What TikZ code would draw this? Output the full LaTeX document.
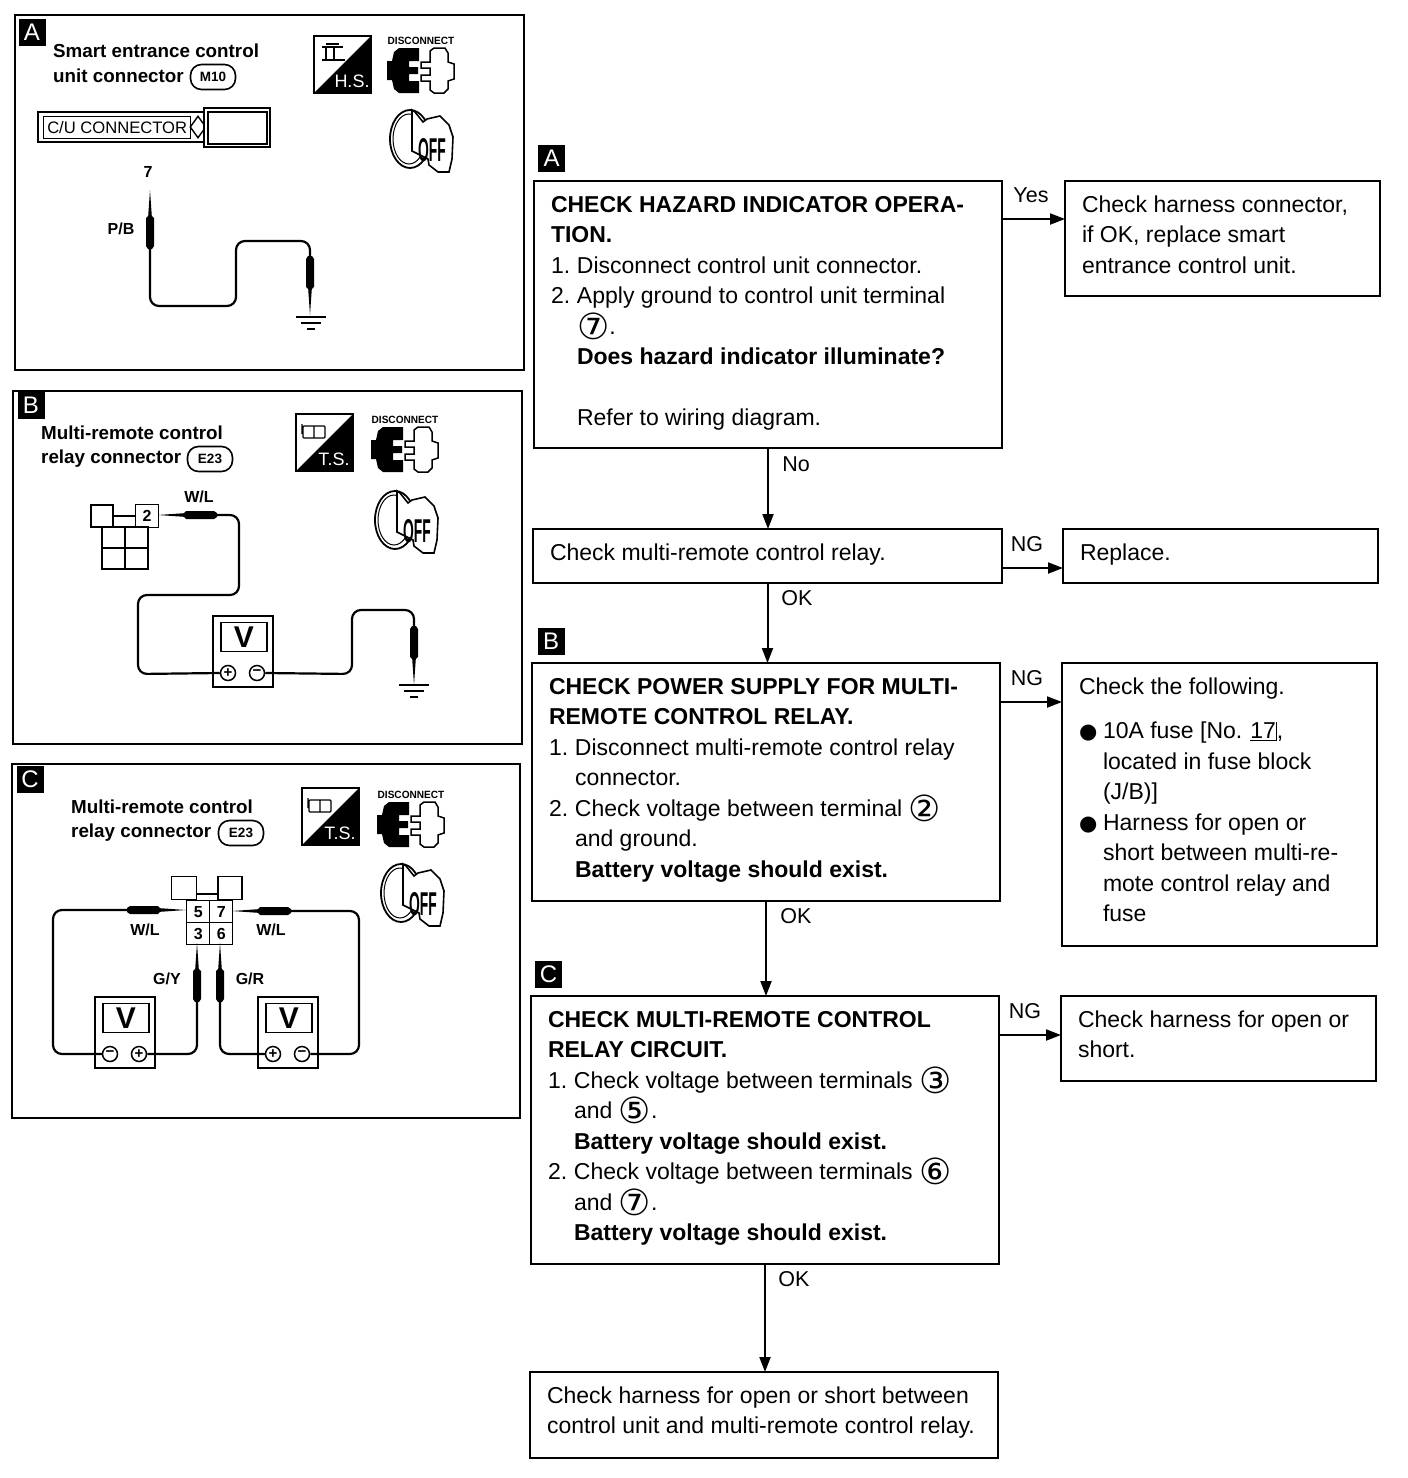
\documentclass[tikz,border=0pt]{standalone}
\usepackage{fontspec}
\setmainfont{Liberation Sans}
\newfontfamily\dejavu{DejaVu Sans}
\usetikzlibrary{arrows.meta,shapes.geometric}

\newcommand{\flowtext}[3]{\begin{minipage}[t][#2pt][t]{#1pt}\rule{0pt}{22.4pt}#3\end{minipage}}
\newcommand{\termnum}[1]{\raisebox{-5pt}[0pt][0pt]{\dejavu\fontsize{36}{36}\selectfont #1}}
\newcommand{\stepnum}[1]{\makebox[26pt][l]{#1}}
\newcommand{\stepind}{\hspace*{26pt}}
\newcommand{\bulletmark}{\makebox[24pt][l]{\dejavu\fontsize{21}{21}\selectfont ●}}
\newcommand{\fusenum}{\hspace{8pt}\underline{17}\rule[-2pt]{1pt}{19pt}}

\tikzset{
	flowbox/.style={draw,line width=2.2pt,anchor=north west,inner xsep=17pt,inner ysep=9pt,outer sep=0pt,
		font=\fontsize{23}{30.5}\selectfont},
	flowarrow/.style={line width=2pt,-{Triangle[length=15pt,width=11pt]}},
	flowlabel/.style={font=\fontsize{21.5}{24}\selectfont,inner sep=0pt},
	tagbox/.style={fill=black,text=white,minimum size=27pt,inner sep=0pt,font=\fontsize{24}{24}\selectfont},
	paneltext/.style={anchor=west,inner sep=0pt,font=\bfseries\fontsize{18.8}{20}\selectfont},
	pill/.style={draw,line width=1.6pt,rounded corners=11pt,minimum width=45pt,minimum height=25pt,inner sep=0pt,
		font=\bfseries\fontsize{13.5}{14}\selectfont},
	wirelabel/.style={inner sep=0pt,font=\bfseries\fontsize{16}{16}\selectfont},
	wire/.style={line width=2.2pt,rounded corners=9pt},
	thinbox/.style={draw,line width=1.4pt},
	pics/probe/.style={code={
		\fill (0,0) -- (1.8,26) -- (4,28) -- (4,56) -- (2,59) -- (-2,59) -- (-4,56) -- (-4,28) -- (-1.8,26) -- cycle;
		\coordinate (-end) at (0,58);
	}},
	pics/ground/.style={code={
		\draw[line width=2pt] (-15,0) -- (15,0);
		\draw[line width=2pt] (-10,6) -- (10,6);
		\draw[line width=2pt] (-4,12) -- (4,12);
	}},
	pics/testicon/.style={code={
		\draw[fill=white,line width=1.6pt] (0,0) rectangle (57,57);
		\fill (57,0) -- (57,57) -- (0,57) -- cycle;
		\node[text=white,inner sep=0pt,font=\fontsize{18}{18}\selectfont] (-lbl) at (38,45) {#1};
	}},
	pics/plugicon/.style={code={
		\node[inner sep=0pt,font=\bfseries\fontsize{10.5}{12}\selectfont] (-lbl) at (34,-7) {\scalebox{.96}[1]{DISCONNECT}};
		\fill (0,13) -- (5,13) -- (7,4) -- (12,0) -- (32,0) -- (32,13) -- (22,13) -- (22,19) -- (31,19) -- (31,26)
			-- (22,26) -- (22,33) -- (32,33) -- (32,45) -- (12,45) -- (7,41) -- (5,32) -- (0,32) -- cycle;
		\draw[line width=1.5pt] (34,14) -- (43,14) -- (43,3) -- (47,0) -- (58,0) -- (61,5) -- (61,14) -- (67,16)
			-- (67,31) -- (61,33) -- (61,41) -- (57,45) -- (47,45) -- (43,42) -- (43,33) -- (34,33) -- (34,27)
			-- (43,27) -- (43,20) -- (34,20) -- cycle;
	}},
	pics/keyicon/.style={code={
		\draw[line width=1.8pt] (0,0) ellipse (20 and 29);
		\draw[line width=1pt] (-1,0) ellipse (16 and 25);
		\draw[fill=white,line width=1.6pt] (17,-20) -- (30,-23) -- (39,-14) -- (43,-2) -- (42,20) -- (39,33)
			-- (28,33) -- (19,26) -- (18,20) -- (2,12) -- (2,-29) -- (5,-27) -- (13,-17) -- cycle;
		\node[inner sep=0pt,font=\bfseries\fontsize{33}{33}\selectfont] (-off) at (22,11) {\scalebox{.42}[1]{OFF}};
	}},
	pics/meter/.style 2 args={code={
		\draw[fill=white,line width=1.6pt] (0,0) rectangle (60,71);
		\node[draw,line width=1.6pt,minimum width=46pt,minimum height=29pt,inner sep=0pt,
			font=\bfseries\fontsize{30}{30}\selectfont] (-screen) at (31,21) {V};
		\node[draw,circle,line width=1.5pt,minimum size=15pt,inner sep=0pt,font=\bfseries\fontsize{15}{15}\selectfont] (-a) at (15,57) {#1};
		\node[draw,circle,line width=1.5pt,minimum size=15pt,inner sep=0pt,font=\bfseries\fontsize{15}{15}\selectfont] (-b) at (44,57) {#2};
	}},
}

\begin{document}
\begin{tikzpicture}[x=1pt,y=-1pt]
	\path[fill=white,use as bounding box] (0,0) rectangle (1408,1478);

	\draw[line width=2pt] (15,15) rectangle (524,370);
	\draw[line width=2pt] (13,391) rectangle (522,744);
	\draw[line width=2pt] (12,764) rectangle (520,1118);

	\node[tagbox] (tagpa) at (32,32) {A};
	\node[paneltext] (capa1) at (53,51) {Smart entrance control};
	\node[paneltext] (capa2) at (53,76) {unit connector};
	\node[pill] (pilla) at (213,77) {M10};
	\pic (iconhs) at (314,36) {testicon={H.S.}};
	\draw[line width=1.3pt] (322,47) -- (343,47) (326,44) -- (339,44) (326,47) -- (326,60) (334,47) -- (334,60) (322,60) -- (345,60);
	\pic (pluga) at (387,48) {plugicon};
	\pic (keya) at (410,139) {keyicon};
	\draw[line width=1.8pt] (38,112) rectangle (206,142);
	\node[thinbox,anchor=north west,minimum width=147pt,minimum height=22pt,inner sep=0pt,font=\fontsize{16.6}{16}\selectfont] (culabel) at (43,116) {C/U CONNECTOR};
	\node[thinbox,diamond,minimum width=16pt,minimum height=22pt,inner sep=0pt] (cudia) at (198,127) {};
	\draw[fill=white,line width=1.6pt] (204,108) rectangle (270,147);
	\draw[line width=1.6pt] (208,112) rectangle (267,144);
	\node[wirelabel] (term7) at (148,172) {7};
	\node[wirelabel] (wirepb) at (121,229) {P/B};
	\pic (pa1) at (150,190) {probe};
	\pic[rotate=180] (pa2) at (310,315) {probe};
	\draw[wire] (pa1-end) -- (150,306) -- (236,306) -- (236,241) -- (310,241) -- (pa2-end);
	\pic (gnda) at (311,317) {ground};

	\node[tagbox] (tagpb) at (31,405) {B};
	\node[paneltext] (capb1) at (41,433) {Multi-remote control};
	\node[paneltext] (capb2) at (41,459) {relay connector};
	\node[pill] (pillb) at (210,459) {E23};
	\pic (iconb) at (296,414) {testicon={T.S.}};
	\draw[line width=1.3pt,rounded corners=1pt] (303,426) rectangle (325,438) (314,426) -- (314,438) (302,424) -- (302,434);
	\pic (plugb) at (371,427) {plugicon};
	\pic (keyb) at (395,520) {keyicon};
	\node[thinbox,minimum size=22pt,inner sep=0pt] (cb1) at (102,516) {};
	\node[thinbox,minimum size=23pt,inner sep=0pt,font=\bfseries\fontsize{16}{16}\selectfont] (cb2) at (147,516) {2};
	\draw[line width=2.2pt] (cb1) -- (cb2);
	\foreach \gx/\gy in {102/527,125/527,102/548,125/548}
		\draw[line width=1.2pt] (\gx,\gy) rectangle ++(23,21);
	\node[wirelabel] (wirewl1) at (199,497) {W/L};
	\pic[rotate=90] (pb1) at (158,515) {probe};
	\pic (meterb) at (213,616) {meter={+}{−}};
	\draw[wire] (pb1-end) -- (239,515) -- (239,595) -- (138,595) -- (138,674) -- (meterb-a.west);
	\pic[rotate=180] (pb2) at (414,685) {probe};
	\draw[wire] (meterb-b.east) -- (352,674) -- (352,610) -- (414,610) -- (pb2-end);
	\pic (gndb) at (414,685) {ground};

	\node[tagbox] (tagpc) at (30,779) {C};
	\node[paneltext] (capc1) at (71,807) {Multi-remote control};
	\node[paneltext] (capc2) at (71,833) {relay connector};
	\node[pill] (pillc) at (241,833) {E23};
	\pic (iconc) at (302,788) {testicon={T.S.}};
	\draw[line width=1.3pt,rounded corners=1pt] (309,800) rectangle (331,812) (320,800) -- (320,812) (308,798) -- (308,808);
	\pic (plugc) at (377,802) {plugicon};
	\pic (keyc) at (401,893) {keyicon};
	\node[thinbox,minimum width=25pt,minimum height=23pt,inner sep=0pt] (cc1) at (184,888) {};
	\node[thinbox,minimum width=24pt,minimum height=23pt,inner sep=0pt] (cc2) at (230,888) {};
	\draw[line width=2.2pt] ([yshift=6pt]cc1.south east) -- ([yshift=6pt]cc2.south west);
	\foreach \cx/\cy/\ct in {186/900/5,209/900/7,186/922/3,209/922/6}
		\node[thinbox,anchor=north west,minimum width=23pt,minimum height=22pt,inner sep=0pt,font=\bfseries\fontsize{16}{16}\selectfont] (cell\ct) at (\cx,\cy) {\ct};
	\node[wirelabel] (wirewl2) at (145,930) {W/L};
	\node[wirelabel] (wirewl3) at (271,930) {W/L};
	\node[wirelabel] (wiregy) at (167,979) {G/Y};
	\node[wirelabel] (wiregr) at (250,979) {G/R};
	\pic[rotate=-90] (pc1) at (186,910) {probe};
	\pic[rotate=90] (pc2) at (232,911) {probe};
	\pic (pc3) at (197,943) {probe};
	\pic (pc4) at (220,943) {probe};
	\pic (meterc1) at (95,997) {meter={−}{+}};
	\pic (meterc2) at (258,997) {meter={+}{−}};
	\draw[wire] (pc1-end) -- (53,910) -- (53,1054) -- (meterc1-a.west);
	\draw[wire] (meterc1-b.east) -- (197,1054) -- (pc3-end);
	\draw[wire] (pc4-end) -- (220,1054) -- (meterc2-a.west);
	\draw[wire] (meterc2-b.east) -- (359,1054) -- (359,911) -- (pc2-end);

	\node[tagbox] (tagfa) at (551.5,158) {A};
	\node[flowbox] (boxa) at (534,181) {\flowtext{434}{249}{\textbf{CHECK HAZARD INDICATOR OPERA-}\\
		\textbf{TION.}\\
		\stepnum{1.}Disconnect control unit connector.\\
		\stepnum{2.}Apply ground to control unit terminal\\
		\stepind\termnum{⑦}.\\
		\stepind\textbf{Does hazard indicator illuminate?}\\
		\strut\\
		\stepind Refer to wiring diagram.}};
	\node[flowbox] (boxyes) at (1065,181) {\flowtext{281}{97}{Check harness connector,\\
		if OK, replace smart\\
		entrance control unit.}};
	\node[flowbox] (boxrelay) at (533,529) {\flowtext{435}{36}{Check multi-remote control relay.}};
	\node[flowbox] (boxreplace) at (1063,529) {\flowtext{281}{36}{Replace.}};
	\node[tagbox] (tagfb) at (551,641) {B};
	\node[flowbox] (boxb) at (532,663) {\flowtext{434}{220}{\textbf{CHECK POWER SUPPLY FOR MULTI-}\\
		\textbf{REMOTE CONTROL RELAY.}\\
		\stepnum{1.}Disconnect multi-remote control relay\\
		\stepind connector.\\
		\stepnum{2.}Check voltage between terminal \termnum{②}\\
		\stepind and ground.\\
		\stepind\textbf{Battery voltage should exist.}}};
	\node[flowbox] (boxfuse) at (1062,663) {\flowtext{281}{265}{Check the following.\\[14pt]
		\bulletmark 10A fuse [No.\fusenum,\\
		\hspace*{24pt}located in fuse block\\
		\hspace*{24pt}(J/B)]\\
		\bulletmark Harness for open or\\
		\hspace*{24pt}short between multi-re-\\
		\hspace*{24pt}mote control relay and\\
		\hspace*{24pt}fuse}};
	\node[tagbox] (tagfc) at (548.5,974.5) {C};
	\node[flowbox] (boxc) at (531,996) {\flowtext{434}{250}{\textbf{CHECK MULTI-REMOTE CONTROL}\\
		\textbf{RELAY CIRCUIT.}\\
		\stepnum{1.}Check voltage between terminals \termnum{③}\\
		\stepind and \termnum{⑤}.\\
		\stepind\textbf{Battery voltage should exist.}\\
		\stepnum{2.}Check voltage between terminals \termnum{⑥}\\
		\stepind and \termnum{⑦}.\\
		\stepind\textbf{Battery voltage should exist.}}};
	\node[flowbox] (boxshort) at (1061,996) {\flowtext{281}{67}{Check harness for open or\\
		short.}};
	\node[flowbox] (boxend) at (530,1372) {\flowtext{434}{68}{Check harness for open or short between\\
		control unit and multi-remote control relay.}};

	\draw[flowarrow] ([yshift=-38pt]boxa.north east) -- ([yshift=-38pt]boxyes.north west);
	\draw[flowarrow] (boxa.south) -- (boxa.south |- boxrelay.north);
	\draw[flowarrow] ([yshift=-39pt]boxrelay.north east) -- ([yshift=-39pt]boxreplace.north west);
	\draw[flowarrow] (boxrelay.south) -- (boxrelay.south |- boxb.north);
	\draw[flowarrow] ([yshift=-39pt]boxb.north east) -- ([yshift=-39pt]boxfuse.north west);
	\draw[flowarrow] (boxb.south) -- (boxb.south |- boxc.north);
	\draw[flowarrow] ([yshift=-39pt]boxc.north east) -- ([yshift=-39pt]boxshort.north west);
	\draw[flowarrow] (boxc.south) -- (boxc.south |- boxend.north);

	\node[flowlabel] (lblyes) at (1031,195) {Yes};
	\node[flowlabel] (lblno) at (796,464) {No};
	\node[flowlabel] (lblng1) at (1027,544) {NG};
	\node[flowlabel] (lblok1) at (797,598) {OK};
	\node[flowlabel] (lblng2) at (1027,678) {NG};
	\node[flowlabel] (lblok2) at (796,916) {OK};
	\node[flowlabel] (lblng3) at (1025,1011) {NG};
	\node[flowlabel] (lblok3) at (794,1279) {OK};
\end{tikzpicture}
\end{document}
